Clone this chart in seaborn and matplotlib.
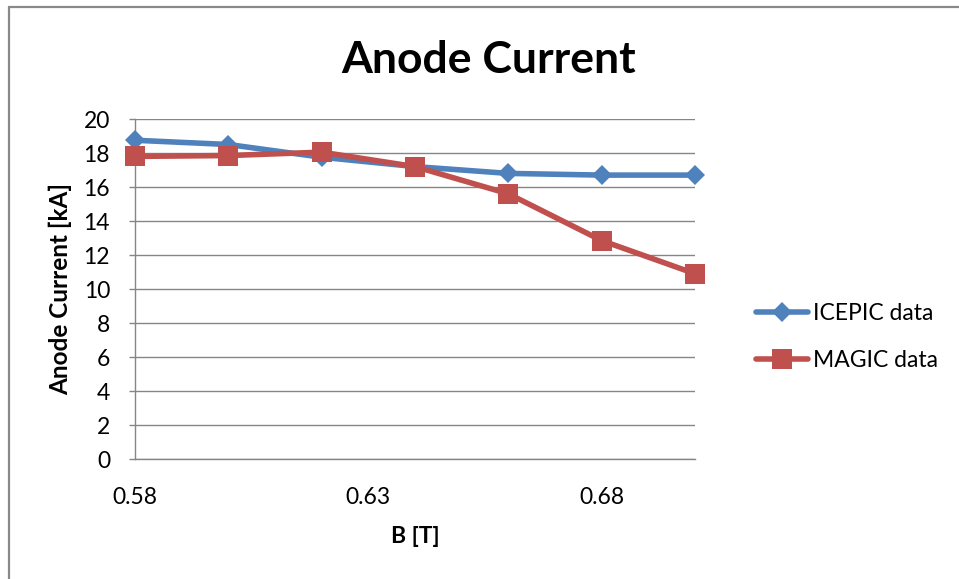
import matplotlib
matplotlib.use("Agg")
import matplotlib.pyplot as plt
from matplotlib.lines import Line2D
import seaborn as sns
import pandas as pd

# Magnetic field values and anode currents for the two codes
b_field = [0.58, 0.60, 0.62, 0.64, 0.66, 0.68, 0.70]
icepic_current = [18.75, 18.5, 17.75, 17.2, 16.8, 16.7, 16.7]
magic_current = [17.8, 17.85, 18.05, 17.2, 15.6, 12.85, 10.9]
series_names = ["ICEPIC data", "MAGIC data"]
x_ticks = [0.58, 0.63, 0.68]
y_ticks = list(range(0, 21, 2))

sns.set_style("white")
plt.rcParams["font.family"] = ["Lato", "DejaVu Sans"]
plt.rcParams["text.color"] = "black"
plt.rcParams["xtick.color"] = "black"
plt.rcParams["ytick.color"] = "black"
plt.rcParams["axes.labelcolor"] = "black"

df = pd.DataFrame({
    "B": b_field * 2,
    "I": icepic_current + magic_current,
    "series": [series_names[0]] * len(b_field) + [series_names[1]] * len(b_field),
})

colors = {"ICEPIC data": "#4F81BD", "MAGIC data": "#C0504D"}
markers = {"ICEPIC data": "D", "MAGIC data": "s"}
msizes = {"ICEPIC data": 9.8, "MAGIC data": 14.2}

fig = plt.figure(figsize=(9.59, 5.79), dpi=100)
ax = fig.add_axes([135 / 959, (579 - 459) / 579, 560 / 959, 340 / 579])

grid_color = "#868686"
ax.set_axisbelow(True)
ax.yaxis.grid(True, color=grid_color, linewidth=1.0)
ax.xaxis.grid(False)

for name in series_names:
    sub = df[df["series"] == name]
    sns.lineplot(data=sub, x="B", y="I", ax=ax, color=colors[name],
                 marker=markers[name], markersize=msizes[name],
                 markeredgewidth=0, linewidth=4.0, label=name,
                 legend=False, clip_on=False, zorder=3)

ax.set_xlim(0.58, 0.70)
ax.set_ylim(0, 20)
ax.set_xticks(x_ticks)
ax.set_xticklabels([f"{v:.2f}" for v in x_ticks])
ax.set_yticks(y_ticks)

for side in ["top", "right"]:
    ax.spines[side].set_visible(False)
for side in ["left", "bottom"]:
    ax.spines[side].set_color(grid_color)
    ax.spines[side].set_linewidth(1.0)

ax.tick_params(axis="y", length=4, color=grid_color, width=1.0,
               labelsize=16.5, labelcolor="black", pad=14,
               direction="out", left=True)
ax.tick_params(axis="x", length=0, labelsize=16.5, labelcolor="black",
               pad=20)

ax.set_xlabel("B [T]", fontsize=16.5, fontweight="bold", labelpad=13)
ax.set_ylabel("Anode Current [kA]", fontsize=17.5, fontweight="bold",
              labelpad=8)

fig.text(489 / 959, 1 - 60 / 579, "Anode Current", fontsize=32,
         fontweight="bold", ha="center", va="center")

handles = [Line2D([0], [0], color=colors[n], marker=markers[n],
                  markersize=msizes[n], markeredgewidth=0, linewidth=4.0)
           for n in series_names]
fig.legend(handles, series_names, loc="center left",
           bbox_to_anchor=(735 / 959, 1 - 337 / 579), frameon=False,
           fontsize=16.5, handlelength=2.3, handletextpad=0.2,
           labelspacing=1.15)

# chart frame (top and left edges visible within the image)
fig.add_artist(Line2D([9 / 959, 1.0], [1 - 7 / 579, 1 - 7 / 579],
                      transform=fig.transFigure, color="#898989",
                      linewidth=1.6))
fig.add_artist(Line2D([9 / 959, 9 / 959], [0.0, 1 - 7 / 579],
                      transform=fig.transFigure, color="#898989",
                      linewidth=1.6))

fig.savefig("out.png", dpi=100)
